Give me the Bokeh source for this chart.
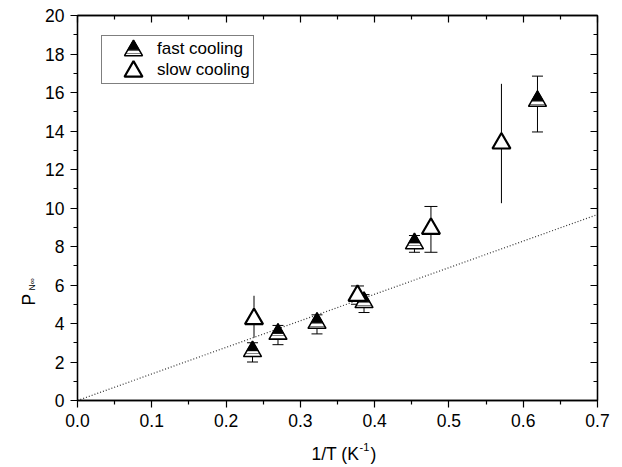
import numpy as np
from bokeh.plotting import figure
from bokeh.layouts import row, column
from bokeh.models import (ColumnDataSource, LinearAxis, FixedTicker, Range1d,
                          Whisker, TeeHead, Label, Legend, LegendItem,
                          NumeralTickFormatter, CustomJSTickFormatter)
from bokeh.embed import file_html
from bokeh.resources import INLINE

# ---------------- data ----------------
fast_x = [0.2356, 0.2699, 0.3224, 0.3857, 0.4536, 0.6192]
fast_y = [2.55, 3.45, 4.02, 5.10, 8.15, 15.55]
fast_lo = [2.00, 2.90, 3.46, 4.57, 7.70, 13.95]
fast_hi = [3.00, 3.90, 4.45, 5.50, 8.57, 16.85]

slow_x = [0.2376, 0.3769, 0.4758, 0.5707]
slow_y = [4.24, 5.45, 8.93, 13.36]
slow_lo = [3.26, 5.00, 7.70, 10.25]
slow_hi = [5.44, 5.95, 10.08, 16.45]
slow_capped = [False, True, True, False]

fit_slope = 13.8

x_ticks = [0.0, 0.1, 0.2, 0.3, 0.4, 0.5, 0.6, 0.7]
y_ticks = [0, 2, 4, 6, 8, 10, 12, 14, 16, 18, 20]
series_labels = ["fast cooling", "slow cooling"]
y_title, y_title_sub = "P", "N∞"
x_title, x_title_sup, x_title_end = "1/T (K", "-1", ")"

# ---------------- layout ----------------
TOTAL_W, TOTAL_H = 614, 467
YLAB_W = 40          # strip on the left holding the y title
XLAB_H = 30          # strip at the bottom holding the x title
W = TOTAL_W - YLAB_W
H = TOTAL_H - XLAB_H
FRAME_L, FRAME_T = 77, 15  # frame position on the page
ML, MT = FRAME_L - YLAB_W, FRAME_T
FW, FH = 520, 385
MR = W - ML - FW
MB = H - MT - FH
X0, X1 = 0.0, 0.7
Y0, Y1 = 0.0, 20.0
FONT = "Liberation Sans"
TSIZE = "17.5px"

MSIZE = 18
K = 0.62  # fraction of the triangle that is filled black (top part)
h_px = (MSIZE / 2) * np.sqrt(3)
top_off = (2 * h_px / 3) * (1 - K) * (Y1 - Y0) / FH

p = figure(width=W, height=H, x_range=Range1d(X0, X1), y_range=Range1d(Y0, Y1),
           output_backend="svg", toolbar_location=None,
           x_axis_type=None, y_axis_type=None,
           min_border_left=ML, min_border_right=MR,
           min_border_top=MT, min_border_bottom=MB)
p.outline_line_color = "black"
p.outline_line_width = 1.3
p.background_fill_color = "white"
p.border_fill_color = "white"

x_minor = [round(v + 0.05, 2) for v in x_ticks[:-1]]
y_minor = [v + 1 for v in y_ticks[:-1]]


def make_axis(ticks, minor, labels, inward, formatter=None):
    ax = LinearAxis(ticker=FixedTicker(ticks=ticks, minor_ticks=minor))
    ax.axis_line_color = "black"
    ax.axis_line_width = 1.3
    ax.major_tick_line_color = "black"
    ax.minor_tick_line_color = "black"
    ax.major_tick_line_width = 1.2
    ax.minor_tick_line_width = 1.2
    if inward:
        ax.major_tick_in, ax.major_tick_out = 7, 0
        ax.minor_tick_in, ax.minor_tick_out = 4, 0
    else:
        ax.major_tick_in, ax.major_tick_out = 0, 7
        ax.minor_tick_in, ax.minor_tick_out = 0, 4
    if labels:
        ax.major_label_text_font = FONT
        ax.major_label_text_font_size = TSIZE
        ax.major_label_text_color = "black"
        ax.major_label_standoff = 6
        if formatter is not None:
            ax.formatter = formatter
    else:
        ax.formatter = CustomJSTickFormatter(code="return ''")
        ax.major_label_standoff = 0
    return ax


p.add_layout(make_axis(x_ticks, x_minor, True, False, NumeralTickFormatter(format="0.0")), "below")
p.add_layout(make_axis(y_ticks, y_minor, True, False), "left")
p.add_layout(make_axis(x_ticks, x_minor, False, True), "above")
p.add_layout(make_axis(y_ticks, y_minor, False, True), "right")

# dotted fit line through the origin
p.line(x=[X0, X1], y=[fit_slope * X0, fit_slope * X1], line_color="#333333",
       line_width=1.2, line_dash="1 2")

# ---------------- error bars ----------------
fast_src = ColumnDataSource(dict(x=fast_x, y=fast_y, lo=fast_lo, hi=fast_hi,
                                 ytop=[v + top_off for v in fast_y]))
p.add_layout(Whisker(source=fast_src, base="x", lower="lo", upper="hi",
                     dimension="height", line_color="black", line_width=1,
                     upper_head=TeeHead(size=11, line_color="black", line_width=1),
                     lower_head=TeeHead(size=11, line_color="black", line_width=1)))

cap_idx = [i for i, c in enumerate(slow_capped) if c]
nocap_idx = [i for i, c in enumerate(slow_capped) if not c]


def sub(idx):
    return dict(x=[slow_x[i] for i in idx], lo=[slow_lo[i] for i in idx],
                hi=[slow_hi[i] for i in idx])


p.add_layout(Whisker(source=ColumnDataSource(sub(cap_idx)), base="x", lower="lo", upper="hi",
                     dimension="height", line_color="black", line_width=1,
                     upper_head=TeeHead(size=13, line_color="black", line_width=1),
                     lower_head=TeeHead(size=13, line_color="black", line_width=1)))
p.add_layout(Whisker(source=ColumnDataSource(sub(nocap_idx)), base="x", lower="lo", upper="hi",
                     dimension="height", line_color="black", line_width=1,
                     upper_head=None, lower_head=None))

# ---------------- markers ----------------
fast_style = dict(marker="triangle", size=MSIZE, fill_color="white", line_color="black",
                  line_width=1.5, hatch_pattern="horizontal_line", hatch_color="#808080",
                  hatch_scale=3, hatch_weight=1)
fast_top_style = dict(marker="triangle", size=MSIZE * K, fill_color="black",
                      line_color="black", line_width=1)
slow_style = dict(marker="triangle", size=MSIZE, fill_color="white", line_color="black",
                  line_width=2.2)

p.scatter("x", "y", source=fast_src, **fast_style)
p.scatter("x", "ytop", source=fast_src, **fast_top_style)
slow_src = ColumnDataSource(dict(x=slow_x, y=slow_y))
p.scatter("x", "y", source=slow_src, **slow_style)

# ---------------- legend ----------------
LEG_X, LEG_Y = 24, 316
PAD, GW, GH, SP = 3, 52, 20, 1
dummy1 = p.scatter(x=[], y=[], marker="triangle", fill_alpha=0, line_alpha=0)
dummy2 = p.scatter(x=[], y=[], marker="triangle", fill_alpha=0, line_alpha=0)
legend = Legend(items=[LegendItem(label=series_labels[0], renderers=[dummy1]),
                       LegendItem(label=series_labels[1], renderers=[dummy2])],
                location=(LEG_X, LEG_Y), orientation="vertical",
                label_text_font=FONT, label_text_font_size="17px", label_text_color="black",
                glyph_width=GW, glyph_height=GH, label_height=GH, label_standoff=0,
                padding=PAD, spacing=SP, margin=0,
                border_line_color="black", border_line_width=1,
                background_fill_alpha=0)
p.add_layout(legend)

# legend symbols, placed in frame pixels and mapped through the ranges
gx_px = 56
gy_px = [35, 56]
lx = X0 + gx_px / FW * (X1 - X0)
ly = [Y1 - g / FH * (Y1 - Y0) for g in gy_px]
leg_fast = ColumnDataSource(dict(x=[lx], y=[ly[0]], ytop=[ly[0] + top_off]))
leg_slow = ColumnDataSource(dict(x=[lx], y=[ly[1]]))
p.scatter("x", "y", source=leg_fast, **fast_style)
p.scatter("x", "ytop", source=leg_fast, **fast_top_style)
p.scatter("x", "y", source=leg_slow, **slow_style)


# ---------------- axis titles (in narrow side strips) ----------------
def strip(w, h):
    f = figure(width=w, height=h, frame_width=w, frame_height=h, title=None,
               x_range=Range1d(0, w), y_range=Range1d(0, h),
               output_backend="svg", toolbar_location=None,
               x_axis_type=None, y_axis_type=None,
               min_border_left=0, min_border_right=0, min_border_top=0, min_border_bottom=0)
    f.outline_line_color = None
    f.background_fill_color = "white"
    f.border_fill_color = "white"
    return f


ylab = strip(YLAB_W, H)
# rotated titles anchored at the start of their baseline
ylab.add_layout(Label(x=28, y=H - 290, text=y_title, angle=np.pi / 2,
                      text_align="left", text_baseline="alphabetic",
                      text_font=FONT, text_font_size=TSIZE, text_color="black"))
ylab.add_layout(Label(x=31, y=H - 275, text=y_title_sub, angle=np.pi / 2,
                      text_align="left", text_baseline="alphabetic",
                      text_font=FONT, text_font_size="8.5px", text_color="black"))

xlab = strip(TOTAL_W, XLAB_H)
BASE = 14
xlab.add_layout(Label(x=311, y=BASE, text=x_title, text_align="left",
                      text_baseline="alphabetic", text_font=FONT,
                      text_font_size=TSIZE, text_color="black"))
xlab.add_layout(Label(x=359, y=BASE + 7, text=x_title_sup, text_align="left",
                      text_baseline="alphabetic", text_font=FONT,
                      text_font_size="11px", text_color="black"))
xlab.add_layout(Label(x=370, y=BASE, text=x_title_end, text_align="left",
                      text_baseline="alphabetic", text_font=FONT,
                      text_font_size=TSIZE, text_color="black"))

layout = column(row(ylab, p, spacing=0), xlab, spacing=0)
open("out.html", "w").write(file_html(layout, INLINE))
